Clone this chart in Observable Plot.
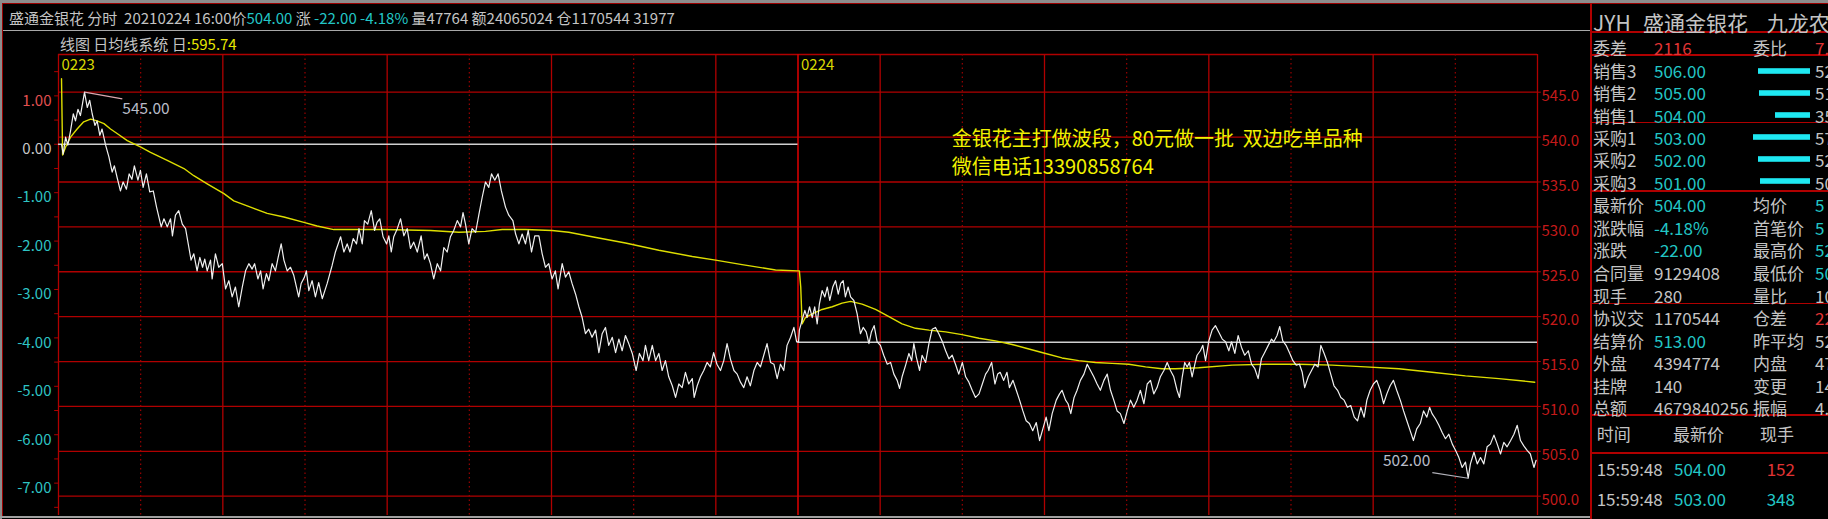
<!DOCTYPE html>
<html><head><meta charset="utf-8">
<script src="https://cdn.jsdelivr.net/npm/d3@7"></script>
<script src="https://cdn.jsdelivr.net/npm/@observablehq/plot@0.6"></script>
<style>
html,body{margin:0;padding:0;background:#000;width:1828px;height:519px;overflow:hidden;font-family:"Noto Sans CJK SC","Noto Sans",sans-serif;}
#root{position:relative;width:1828px;height:519px;overflow:hidden;background:#000;}
.t{position:absolute;white-space:pre;line-height:1;transform:translateY(-50%);}
.ln{position:absolute;}
#main{position:absolute;left:0;top:0;}
#bars{position:absolute;left:1730px;top:58.8px;}
</style></head><body><div id="root"></div>
<script>
// ---------------- data ----------------
const day1T = [1.1,1.7,2.6,3.4,4.4,5.4,6.2,7.1,8.0,9.5,10.5,11.4,12.3,13.3,14.1,15.1,15.9,17.2,18.4,19.6,20.4,21.4,22.6,23.6,24.8,25.8,26.8,27.7,29.0,29.9,30.9,32.1,33.3,34.6,35.8,37.5,38.5,39.7,40.9,41.6,42.7,43.9,45.2,46.4,47.6,48.4,49.4,50.6,51.6,52.6,53.4,54.3,55.5,56.1,57.3,58.5,59.8,61.0,62.2,63.4,64.6,65.8,67.1,68.3,69.5,70.7,71.6,72.8,73.8,74.7,75.9,76.8,78.0,79.2,80.2,81.3,82.3,83.5,84.7,85.9,87.7,88.6,89.8,90.5,91.4,92.6,93.8,95.0,96.3,98.1,99.9,101.1,103.0,104.2,105.4,106.4,107.6,108.8,109.7,110.9,111.7,112.9,114.2,115.4,116.3,117.3,118.5,119.8,120.6,121.5,122.4,123.7,124.9,126.1,127.3,128.5,129.7,131.0,132.4,133.6,134.6,135.8,
137.0,138.3,139.5,140.7,141.9,143.1,144.3,145.6,146.8,147.7,148.6,149.8,151.0,152.3,153.5,154.7,155.9,157.1,158.1,159.3,160.5,161.7,163.2,164.4,165.9,166.9,168.1,169.3,170.5,171.5,172.7,173.9,175.4,176.6,177.8,179.0,180.2,181.4,182.4,183.9,185.1,186.3,187.5,188.8,190.0,191.2,192.4,193.6,194.8,196.1,197.3,198.5,199.7,200.9,202.2,203.4,204.6,205.8,207.0,208.2,209.5,210.9,212.1,213.4,214.3,215.5,216.8,218.0,219.2,220.4,221.6,222.8,224.1,225.3,226.5,227.7,228.9,230.1,231.4,232.1,233.2,234.4,235.6,236.8,238.0,239.2,240.4,241.7,242.9,244.1,245.3,246.6,247.8,249.0,250.2,251.4,252.6,253.9,255.1,256.3,257.5,258.7,260.0,261.2,262.4,263.6,264.8,266.0,267.3,268.5,269.5];
const day1P = [539.2,538.1,540.0,539.1,540.7,542.6,541.8,543.1,542.4,545.0,543.3,544.1,542.6,541.3,541.8,540.2,540.9,539.1,537.8,536.1,536.8,535.5,534.0,535.0,534.2,535.9,535.3,536.8,535.2,536.3,534.4,535.9,533.9,534.0,532.2,530.0,530.9,530.0,530.9,529.0,531.3,531.8,530.3,529.8,527.7,526.3,527.0,525.1,526.6,525.5,526.4,525.1,526.3,524.2,527.0,525.5,525.9,523.1,524.0,522.2,523.3,521.1,523.3,525.1,525.9,525.3,525.9,524.2,525.1,523.1,524.8,524.0,525.9,525.1,526.6,528.1,526.3,525.1,525.5,524.6,522.2,523.7,524.4,525.1,522.9,524.0,522.2,523.8,522.0,523.7,525.7,527.2,528.9,527.2,528.1,527.2,528.7,528.1,529.8,528.1,530.7,530.3,531.8,529.6,530.5,530.9,528.9,528.1,529.0,527.2,528.9,529.8,530.9,529.0,529.8,527.6,528.3,527.2,529.0,526.4,527.0,525.9,
524.2,525.9,525.1,527.7,527.2,528.9,529.6,530.7,530.0,531.6,530.3,528.1,529.8,529.4,531.4,533.3,535.0,534.4,535.9,535.2,535.9,534.0,532.2,531.3,530.7,529.2,528.1,529.2,528.1,529.6,527.2,529.0,529.0,527.0,525.5,525.9,524.2,525.1,523.1,525.9,524.4,525.0,523.7,522.5,521.1,519.9,518.1,518.6,517.7,518.5,516.0,518.1,518.8,516.8,517.7,516.0,517.5,516.2,517.9,517.0,515.9,514.0,515.9,515.1,516.8,515.1,516.8,515.1,515.9,514.0,515.1,513.3,512.3,511.0,512.5,512.1,513.8,512.5,513.1,511.0,512.3,513.3,514.0,514.9,514.4,516.0,514.7,514.0,515.1,517.0,515.3,514.0,513.6,512.7,512.1,513.3,512.3,514.0,514.9,514.4,515.7,517.0,514.9,514.7,513.1,514.7,514.0,516.8,517.7,518.8,517.2];
const day2T = [270.2,270.5,271.5,272.5,273.3,274.2,275.2,276.1,277.0,277.8,278.8,279.8,280.7,281.6,282.7,283.7,284.7,285.6,286.5,287.3,288.3,289.2,290.4,291.6,292.8,293.8,294.9,295.9,296.8,297.8,298.9,300.1,301.3,302.6,303.8,305.0,306.2,307.1,308.0,309.3,310.5,311.5,312.3,313.2,314.4,315.3,316.6,317.8,319.0,320.2,321.4,322.6,323.9,325.1,326.3,327.5,328.7,330.0,331.2,332.4,333.6,334.8,336.1,337.3,338.5,339.4,340.7,341.9,342.9,343.8,345.1,346.3,347.2,348.5,349.7,350.9,352.1,353.3,354.5,355.7,357.0,358.2,359.4,360.6,361.6,362.8,364.3,365.5,366.4,367.7,368.6,369.6,370.8,371.9,373.1,374.4,375.6,376.8,378.0,379.2,380.4,381.7,382.9,384.1,385.3,386.5,387.7,389.0,390.2,391.4,392.6,393.8,395.0,396.3,397.5,398.7,399.9,401.1,402.3,403.6,404.8,406.0,407.2,
408.4,409.3,410.3,411.2,412.1,412.9,413.9,414.9,415.7,416.9,417.8,418.8,420.0,421.2,422.4,423.6,424.9,426.1,427.3,428.3,429.5,430.7,431.9,433.1,434.4,435.6,436.8,438.0,439.2,440.4,441.7,442.9,443.7,444.9,445.9,447.0,448.2,449.4,450.7,451.9,453.1,454.1,455.0,456.3,457.5,458.7,459.9,460.9,462.1,463.3,464.5,465.7,467.0,468.2,469.4,470.6,471.8,473.1,474.3,475.5,476.7,477.7,478.9,480.1,481.3,482.6,483.8,485.0,486.2,487.4,488.6,489.9,491.1,492.3,493.5,494.7,495.9,497.2,498.4,499.6,500.6,501.5,502.8,504.0,505.2,506.4,507.6,508.9,510.1,511.3,512.5,513.7,514.7,515.5,516.8,518.0,519.2,520.4,521.6,522.8,524.1,525.3,526.5,527.7,528.9,530.2,531.4,532.6,533.8,535.0,536.2,537.4,538.7,539.5];
const day2P = [517.2,518.5,519.6,520.7,519.9,521.1,519.9,521.1,519.2,521.4,522.9,522.2,523.3,521.8,523.3,524.0,522.5,523.7,524.0,522.2,523.3,522.2,521.8,520.3,518.1,518.8,518.3,517.0,518.3,519.0,517.2,516.8,515.7,514.7,514.9,513.6,512.9,512.0,513.3,514.6,515.9,515.1,517.0,515.5,514.0,515.7,514.9,517.0,518.6,518.8,518.1,517.3,516.2,515.3,515.7,514.7,513.6,514.9,513.3,512.7,511.8,511.0,511.4,512.5,513.6,514.0,514.9,512.5,513.6,513.8,512.9,513.8,512.1,512.9,511.8,510.7,509.5,508.4,508.1,507.3,508.2,506.2,507.5,508.8,507.3,509.2,510.7,511.4,511.8,510.7,510.3,509.2,511.0,511.8,512.9,513.6,514.7,514.0,513.3,512.5,511.8,512.9,513.6,511.8,510.7,509.5,509.2,508.1,509.5,510.7,509.9,510.7,511.8,510.3,512.5,512.9,511.4,512.1,513.3,514.0,514.9,514.0,513.3,
511.8,511.0,513.3,514.9,514.4,514.9,513.3,514.7,515.7,516.2,516.8,515.1,517.3,518.5,519.0,518.3,517.5,517.2,516.2,517.2,515.9,517.9,516.6,515.7,516.2,514.7,514.2,513.1,515.3,516.0,516.8,517.5,517.2,517.9,518.9,517.3,516.8,516.0,515.1,514.6,514.7,513.8,512.1,513.3,514.0,514.7,514.4,516.8,515.9,514.9,513.6,512.3,511.8,511.0,510.7,509.9,510.1,508.8,508.4,509.9,508.8,510.7,511.8,512.5,512.9,511.8,510.3,511.4,512.3,512.9,511.8,510.7,509.5,508.4,507.3,506.2,507.5,508.1,509.5,508.8,509.9,509.2,508.6,507.9,507.1,506.4,506.9,505.8,505.1,504.3,503.2,503.8,502.0,503.6,504.9,503.6,504.3,503.6,505.5,505.8,506.8,505.8,504.7,506.0,505.5,506.2,506.9,507.9,506.2,505.6,505.1,504.7,503.2,504.0];
const avg1T = [1.1,1.5,2.6,4.4,6.8,9.2,11.7,14.1,16.6,19.0,21.4,25.1,29.9,33.6,39.7,45.8,49.4,54.3,60.4,64.0,70.1,76.2,82.3,89.6,94.4,100.5,106.6,118.8,135.8,146.2,155.9,162.0,170.5,180.2,186.3,194.8,207.0,219.2,231.4,239.9,249.6,261.8,270.0];
const avg1P = [546.5,538.0,538.9,540.0,540.9,541.7,542.0,541.8,541.5,540.9,540.4,539.6,538.9,538.3,537.4,536.5,535.7,534.8,533.7,532.9,532.2,531.5,531.1,530.5,530.1,529.7,529.7,529.7,529.6,529.4,529.5,529.7,529.7,529.6,529.4,528.9,528.2,527.4,526.7,526.3,525.8,525.2,525.1];
const avg2T = [270.5,271.0,271.5,272.7,275.2,278.8,282.5,286.1,289.2,293.4,298.3,303.2,308.0,312.9,317.8,323.9,329.9,336.1,342.1,348.2,354.3,360.4,366.4,372.5,378.6,384.7,390.8,396.9,402.9,407.8,416.3,428.5,440.7,452.9,465.0,477.2,489.4,501.5,513.7,525.9,539.0];
const avg2P = [525.1,523.3,519.2,519.9,520.3,520.8,521.1,521.5,521.7,521.4,520.8,520.0,519.2,518.7,518.5,518.3,518.0,517.6,517.3,516.9,516.4,515.9,515.4,515.1,514.9,514.8,514.7,514.4,514.2,514.2,514.3,514.6,514.7,514.7,514.6,514.4,514.2,513.8,513.4,513.1,512.7];
const prevClose = [539.2, 517.15];
const dayLabels = ["0223", "0224"];
const dayStart = [0, 270];
const dayEnd = [270, 540];
const priceTicks = [500, 505, 510, 515, 520, 525, 530, 535, 540, 545];
const pctLabels = [1, 0, -1, -2, -3, -4, -5, -6, -7];
const pctMinor = [1.5, 1, 0.5, 0, -0.5, -1, -1.5, -2, -2.5, -3, -3.5, -4, -4.5, -5, -5.5, -6, -6.5, -7, -7.5];
const timeGrid = [0, 30, 60, 90, 120, 150, 180, 210, 240, 270, 300, 330, 360, 390, 420, 450, 480, 510, 540];
const headerParts = [["盛通金银花 分时  20210224 16:00价", "g"], ["504.00", "c"], [" 涨 ", "g"], ["-22.00 -4.18%", "c"], [" 量47764 额24065024 仓1170544 31977", "g"]];
const subHeader = ["线图 日均线系统 日", ":595.74"];
const panelTitle = ["JYH", "盛通金银花", "九龙农"];
const bookLabels = ["销售3", "销售2", "销售1", "采购1", "采购2", "采购3"];
const bookPrices = ["506.00", "505.00", "504.00", "503.00", "502.00", "501.00"];
const bookVols = [52, 51, 35, 57, 52, 50];
const quoteRows = [
  ["委差", "2116", "委比", "7."],
  ["最新价", "504.00", "均价", "5"],
  ["涨跌幅", "-4.18%", "首笔价", "5"],
  ["涨跌", "-22.00", "最高价", "52"],
  ["合同量", "9129408", "最低价", "50"],
  ["现手", "280", "量比", "10"],
  ["协议交", "1170544", "仓差", "22"],
  ["结算价", "513.00", "昨平均", "52"],
  ["外盘", "4394774", "内盘", "47"],
  ["挂牌", "140", "变更", "14"],
  ["总额", "4679840256", "振幅", "4."]
];
const tradeHeader = ["时间", "最新价", "现手"];
const trades = [["15:59:48", "504.00", "152", "buy"], ["15:59:48", "503.00", "348", "sell"]];
const noteLines = ["金银花主打做波段，80元做一批  双边吃单品种", "微信电话13390858764"];

// ---------------- helpers ----------------
const root = document.getElementById("root");
const FONT = '"Noto Sans CJK SC","Noto Sans",sans-serif';
const GRAY = "#c4c4c4", CYAN = "#22c6c6", RED = "#e03434", YEL = "#e8e800", GRID = "#b00000";
function txt(x, y, s, color, size, anchor) {
  const d = document.createElement("div");
  d.className = "t";
  d.style.left = x + "px"; d.style.top = y + "px";
  d.style.color = color; d.style.fontSize = size + "px";
  if (anchor === "end") d.style.transform = "translate(-100%,-50%)";
  d.textContent = s;
  root.appendChild(d);
  return d;
}
function box(x, y, w, h, color) {
  const d = document.createElement("div");
  d.className = "ln";
  Object.assign(d.style, {left: x + "px", top: y + "px", width: w + "px", height: h + "px", background: color});
  root.appendChild(d);
}

// ---------------- main chart ----------------
const price = day1T.map((t, i) => ({t, p: day1P[i]})).concat(day2T.map((t, i) => ({t, p: day2P[i]})));
const avg = avg1T.map((t, i) => ({t, p: avg1P[i]})).concat(avg2T.map((t, i) => ({t, p: avg2P[i]})));
const base = prevClose[0];
const pct = p => base * (1 + p / 100);
const d1 = price.filter(d => d.t < 270), d2 = price.filter(d => d.t >= 270);
const hi = d1.reduce((a, b) => (b.p > a.p ? b : a));
const lo = d2.reduce((a, b) => (b.p < a.p ? b : a));
const baseLines = prevClose.map((p, i) => ({p, x1: dayStart[i], x2: dayEnd[i]}));
const days = dayLabels.map((l, i) => ({l, t: dayStart[i]}));
const yTop = 549.2, yBot = 497.85;

const chart = Plot.plot({
  width: 1591, height: 519,
  marginLeft: 58, marginRight: 54, marginTop: 54, marginBottom: 4,
  x: {domain: [0, 540], axis: null},
  y: {domain: [yBot, yTop], axis: null},
  style: {background: "transparent", fontFamily: FONT, overflow: "visible"},
  marks: [
    Plot.ruleY(priceTicks.concat([yTop]), {stroke: GRID, strokeWidth: 1.3}),
    Plot.ruleX(timeGrid.filter((d, i) => i % 2 === 1 && d !== 270), {stroke: "#9a0000", strokeDasharray: "1.5,3", strokeWidth: 1.2}),
    Plot.ruleX(timeGrid.filter((d, i) => i % 2 === 0), {stroke: GRID, strokeWidth: 1.3}),
    Plot.ruleX([270], {stroke: "#d40000", strokeWidth: 1.6}),
    Plot.ruleY(pctMinor.map(pct), {x1: 0, x2: -1.4, stroke: GRID}),
    Plot.ruleY(priceTicks, {x1: 540, x2: 541.4, stroke: GRID}),
    Plot.ruleY(baseLines, {y: "p", x1: "x1", x2: "x2", stroke: "#cfcfcf", strokeWidth: 1.5}),
    Plot.line(avg, {x: "t", y: "p", stroke: "#dede00", strokeWidth: 1.4}),
    Plot.line(price, {x: "t", y: "p", stroke: "#f0f0f0", strokeWidth: 1.2}),
    Plot.link([hi], {x1: "t", y1: "p", x2: d => d.t + 13.8, y2: d => d.p - 0.74, stroke: "#d8a8b0", strokeWidth: 1.2}),
    Plot.text([hi], {x: d => d.t + 13.8, y: "p", dy: 16.6, text: d => d.p.toFixed(2), textAnchor: "start", fill: "#b8bcc8", fontSize: 15.5}),
    Plot.link([lo], {x1: "t", y1: "p", x2: d => d.t - 13.1, y2: d => d.p + 0.62, stroke: "#b0b0b8", strokeWidth: 1.2}),
    Plot.text([lo], {x: d => d.t - 13.1, y: "p", dx: -2, dy: -17.3, text: d => d.p.toFixed(2), textAnchor: "end", fill: "#b8bcc8", fontSize: 15.5}),
    Plot.text(days, {x: "t", y: yTop, dx: 3, dy: 10.3, text: "l", textAnchor: "start", fill: "#d8d800", fontSize: 15}),
    Plot.text(priceTicks, {x: 540, y: d => d, dx: 4, dy: 4, text: d => d.toFixed(1), textAnchor: "start", fill: "#c41a1a", fontSize: 15}),
    Plot.text(pctLabels.filter(p => p > 0), {x: 0, y: pct, dx: -7, dy: 5, text: p => p.toFixed(2), textAnchor: "end", fill: "#e25050", fontSize: 15}),
    Plot.text(pctLabels.filter(p => p === 0), {x: 0, y: pct, dx: -7, dy: 5, text: p => p.toFixed(2), textAnchor: "end", fill: "#c8c8c8", fontSize: 15}),
    Plot.text(pctLabels.filter(p => p < 0), {x: 0, y: pct, dx: -7, dy: 5, text: p => p.toFixed(2), textAnchor: "end", fill: "#2ec4c4", fontSize: 15})
  ]
});
chart.id = "main";
root.appendChild(chart);

// ---------------- frame lines ----------------
box(0, 0, 1828, 2.5, "#8c8c8c");
box(0, 3, 1828, 1.2, "#9a0000");
box(0, 0, 1.5, 519, "#8c8c8c");
box(2, 3, 1.2, 514, "#9a0000");
box(3, 29.5, 1588, 1.6, "#a8a8a8");
box(0, 516, 1591, 2, "#a0a0a0");
box(1590, 3, 1.6, 516, "#b00000");
[31.7, 55, 122.3, 190.7, 303.3, 415, 452.7].forEach(y => box(1591, y - 0.7, 237, 1.5, "#b00000"));

// ---------------- header text ----------------
const hd = document.createElement("div");
hd.className = "t";
Object.assign(hd.style, {left: "9px", top: "16.7px", fontSize: "15px"});
headerParts.forEach(([s, c]) => {
  const sp = document.createElement("span");
  sp.textContent = s; sp.style.color = c === "c" ? CYAN : GRAY;
  hd.appendChild(sp);
});
root.appendChild(hd);
const sh = txt(60, 42.7, "", GRAY, 15);
const s1 = document.createElement("span"); s1.textContent = subHeader[0]; s1.style.color = GRAY;
const s2 = document.createElement("span"); s2.textContent = subHeader[1]; s2.style.color = YEL;
sh.appendChild(s1); sh.appendChild(s2);

// annotation note (yellow)
txt(951.7, 138.3, noteLines[0], "#f2f200", 20);
txt(951.7, 166, noteLines[1], "#f2f200", 20);

// ---------------- right panel ----------------
txt(1593, 21.7, panelTitle[0], GRAY, 21);
txt(1643, 21.7, panelTitle[1], GRAY, 21);
txt(1766.7, 21.7, panelTitle[2], GRAY, 21);

const redSet = new Set(["委差", "委比", "仓差"]);
const cyanSet = new Set(["最新价", "涨跌幅", "涨跌", "结算价", "均价", "首笔价", "最高价", "最低价"]);
const colorFor = k => (redSet.has(k) ? RED : cyanSet.has(k) ? CYAN : GRAY);
const quoteY = [46.7, 204, 226.7, 249.3, 271.7, 295, 316.7, 340, 361.7, 385, 406.7];
quoteRows.forEach((r, i) => {
  const y = quoteY[i];
  txt(1593, y, r[0], GRAY, 17);
  txt(1654, y, r[1], colorFor(r[0]), 17);
  txt(1753, y, r[2], GRAY, 17);
  txt(1815, y, r[3], colorFor(r[2]), 17);
});
bookLabels.forEach((l, i) => {
  const y = 70 + i * 22.34;
  txt(1593, y, l, GRAY, 17);
  txt(1654, y, bookPrices[i], CYAN, 17);
  txt(1815, y, String(bookVols[i]), GRAY, 17);
});
const bars = Plot.plot({
  width: 80, height: 134.04, margin: 0,
  x: {domain: [0, 80], reverse: true, axis: null},
  y: {domain: bookLabels, axis: null, padding: 0},
  style: {background: "transparent"},
  marks: [Plot.barX(bookLabels.map((l, i) => ({l, v: bookVols[i]})), {y: "l", x: "v", fill: "#1ee8f2", insetTop: 8.2, insetBottom: 8.2})]
});
bars.id = "bars";
root.appendChild(bars);

txt(1596.7, 433.3, tradeHeader[0], GRAY, 17);
txt(1673, 433.3, tradeHeader[1], GRAY, 17);
txt(1760, 433.3, tradeHeader[2], GRAY, 17);
trades.forEach((r, i) => {
  const y = 468.3 + i * 30;
  txt(1596.7, y, r[0], GRAY, 17);
  txt(1674, y, r[1], CYAN, 17);
  txt(1766.7, y, r[2], r[3] === "buy" ? RED : CYAN, 17);
});
</script></body></html>
